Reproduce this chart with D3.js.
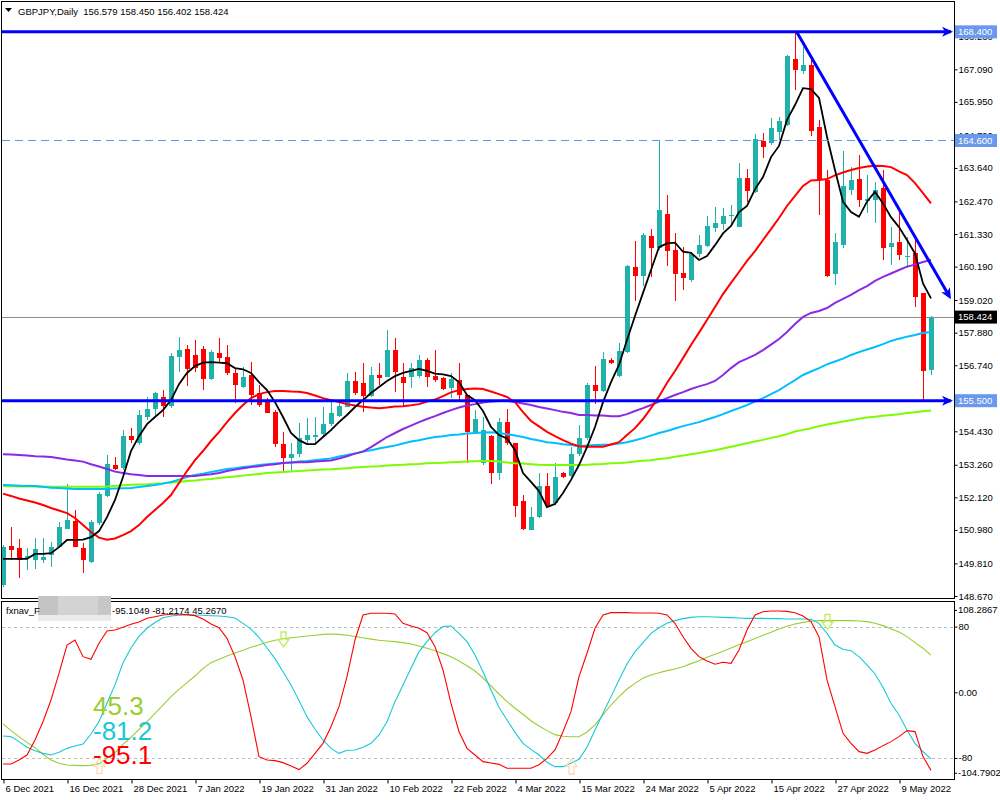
<!DOCTYPE html>
<html><head><meta charset="utf-8">
<script src="https://cdn.jsdelivr.net/npm/d3@7"></script>
<style>
html,body{margin:0;padding:0;background:#fff;}
svg{display:block;font-family:"Liberation Sans",Arial,sans-serif;}
</style></head><body>
<svg id="chart" width="1000" height="800"></svg>
<script>
// ---------------- DATA ----------------
const symbolTitle = "GBPJPY,Daily";
const lastOHLC = "156.579 158.450 156.402 158.424";
const dateLabels = ["6 Dec 2021","16 Dec 2021","28 Dec 2021","7 Jan 2022","19 Jan 2022","31 Jan 2022","10 Feb 2022","22 Feb 2022","4 Mar 2022","15 Mar 2022","24 Mar 2022","5 Apr 2022","15 Apr 2022","27 Apr 2022","9 May 2022"];
const dateTickBars = [0,8,16,24,32,40,48,56,64,72,80,88,96,104,112];
const priceTicks = [168.23,167.09,165.95,164.79,163.64,162.47,161.33,160.19,159.02,157.88,156.74,154.43,153.26,152.12,150.98,149.81,148.67];
const oscTicks = [80,0,-80];
const oscMax = 108.2867, oscMin = -104.7902;

const open = [149.05,150.42,150.34,150.01,149.93,149.93,150.10,150.39,151.01,151.29,
150.34,149.87,151.21,152.17,153.25,153.13,154.26,154.01,154.92,155.20,
155.64,155.31,157.04,157.31,157.10,157.31,156.26,157.16,157.04,156.48,
155.99,156.40,155.76,155.46,155.11,153.98,153.50,153.63,154.12,154.24,
154.33,154.68,154.96,155.29,156.19,156.13,155.67,156.40,156.34,157.27,
156.34,156.34,156.37,156.92,156.36,156.30,155.93,156.22,155.70,154.42,
153.31,154.26,152.98,154.77,154.03,151.98,150.98,151.42,152.51,151.91,
152.96,152.86,153.63,154.18,156.05,155.85,156.92,156.36,157.21,160.19,
159.87,161.26,160.83,162.03,160.77,159.96,159.72,160.63,160.91,161.55,
161.67,161.96,161.58,163.28,162.81,164.59,164.50,164.89,165.14,167.44,
167.04,167.24,165.06,163.22,159.93,160.94,162.87,163.24,162.49,162.52,
162.93,160.89,161.06,160.51,160.65,159.28,156.579];
const high = [150.45,151.09,150.65,150.34,150.69,150.69,150.57,151.27,152.59,151.68,
150.51,151.33,152.30,153.60,153.54,154.47,154.53,155.17,155.64,155.81,
155.87,157.17,157.74,157.45,157.62,157.41,157.27,157.68,157.45,156.63,
156.69,156.86,156.05,155.59,155.17,154.41,154.01,154.71,154.88,154.92,
155.29,155.52,155.52,156.46,156.49,156.81,156.69,156.81,157.97,157.68,
156.81,156.81,157.10,156.98,157.27,156.34,156.46,156.81,155.70,155.17,
154.94,154.30,154.88,155.20,154.03,152.20,151.79,152.96,152.96,153.31,
153.02,153.87,154.65,156.13,156.71,157.21,156.98,157.51,160.25,161.08,
161.35,161.49,164.62,162.69,161.35,160.86,160.67,161.28,161.96,162.26,
162.23,162.34,163.80,163.59,164.83,164.85,165.38,165.41,167.59,168.35,
167.88,167.44,165.32,163.57,161.35,164.23,163.68,164.09,163.39,163.16,
163.57,161.58,162.17,161.24,161.24,159.28,158.450];
const low = [148.98,149.93,149.29,149.58,149.60,149.81,149.69,150.34,151.00,150.39,
149.46,149.81,151.15,152.14,153.07,153.07,154.01,153.95,154.82,154.94,
154.94,155.24,156.51,156.01,156.50,155.87,156.22,156.81,156.40,155.41,
155.93,155.35,155.29,155.06,153.88,152.96,153.02,153.54,153.95,154.01,
154.24,154.61,154.94,155.27,155.70,155.11,155.64,156.05,156.34,155.81,
155.29,155.93,156.28,155.99,156.16,155.87,155.58,155.52,153.31,154.36,
153.25,152.59,152.72,153.95,151.44,150.98,150.98,151.39,151.79,151.85,
152.78,152.84,153.56,154.12,155.38,155.81,156.77,156.34,157.18,159.00,
159.51,159.84,160.77,160.21,159.00,159.37,159.66,160.54,160.89,161.41,
161.47,161.64,161.58,162.46,162.75,164.00,164.44,164.62,165.11,166.37,
166.93,164.76,161.99,159.84,159.55,160.83,162.69,162.28,162.05,161.72,
160.42,160.25,160.42,160.13,158.79,155.52,156.402];
const close = [150.39,150.28,149.93,150.07,150.30,150.04,150.39,151.09,151.33,150.39,
149.93,151.25,152.22,153.28,153.11,154.26,154.12,155.00,155.20,155.78,
155.31,157.06,157.27,156.60,156.64,156.26,157.21,157.00,156.48,156.05,
156.34,155.70,155.35,155.08,153.98,153.50,153.63,154.18,154.30,154.30,
154.67,155.08,155.31,156.20,155.76,155.67,156.39,156.28,157.27,156.51,
156.13,156.63,156.92,156.32,156.22,155.90,156.25,155.70,154.42,154.85,
154.47,152.98,154.77,154.01,151.81,151.01,151.42,152.51,151.81,152.84,
152.84,153.63,154.18,156.05,155.85,156.96,156.83,157.24,160.21,159.87,
161.29,160.85,162.17,160.75,159.93,159.80,160.63,160.95,161.61,161.70,
161.96,162.00,163.28,162.84,164.64,164.38,165.03,165.28,167.57,167.06,
167.24,164.94,163.22,159.86,161.06,163.01,163.22,162.52,162.57,162.87,
160.85,161.00,160.60,160.56,159.14,156.55,158.424];

const maBlack = [149.97,149.97,149.97,149.97,150.14,150.14,150.17,150.38,150.63,150.63,
150.64,150.73,150.94,151.43,152.03,152.83,153.74,154.26,154.68,154.93,
155.17,155.52,156.08,156.47,156.71,156.83,156.85,156.83,156.81,156.64,
156.60,156.47,156.15,155.87,155.45,154.93,154.37,154.12,153.98,153.98,
154.23,154.47,154.75,155.00,155.28,155.52,155.77,155.98,156.19,156.36,
156.47,156.54,156.61,156.54,156.45,156.42,156.36,156.15,155.70,155.52,
155.14,154.58,154.30,154.18,153.77,152.97,152.66,152.34,151.78,151.89,
152.27,152.73,153.25,153.88,154.58,155.45,156.15,156.75,157.62,158.46,
159.27,160.07,160.87,161.00,161.03,160.71,160.67,160.42,160.56,160.94,
161.35,161.61,162.10,162.31,162.90,163.32,164.02,164.41,165.32,165.84,
166.43,166.40,166.09,164.73,163.57,162.46,162.10,161.93,162.46,162.81,
162.40,161.92,161.57,161.12,160.65,159.60,159.08];
const maRed = [152.25,152.17,152.08,152.01,151.94,151.85,151.75,151.66,151.57,151.40,
151.15,150.91,150.71,150.64,150.68,150.80,150.94,151.15,151.43,151.68,
151.92,152.20,152.62,153.04,153.42,153.74,154.09,154.40,154.75,155.07,
155.35,155.59,155.73,155.80,155.84,155.84,155.82,155.81,155.77,155.68,
155.59,155.52,155.45,155.38,155.33,155.29,155.26,155.24,155.26,155.30,
155.31,155.34,155.38,155.47,155.54,155.66,155.79,155.87,155.91,155.93,
155.91,155.82,155.73,155.63,155.45,155.10,154.79,154.60,154.41,154.26,
154.12,154.00,153.91,153.89,153.89,153.89,153.97,154.05,154.30,154.54,
154.86,155.24,155.65,156.12,156.54,156.99,157.45,157.88,158.32,158.78,
159.23,159.62,160.00,160.39,160.73,161.12,161.50,161.89,162.31,162.66,
163.01,163.20,163.22,163.25,163.38,163.48,163.57,163.64,163.69,163.72,
163.71,163.67,163.52,163.39,163.11,162.76,162.40];
const maPurple = [153.63,153.62,153.60,153.58,153.56,153.55,153.53,153.49,153.44,153.41,
153.37,153.28,153.20,153.11,153.02,152.97,152.93,152.90,152.87,152.87,
152.87,152.87,152.87,152.87,152.87,152.90,152.93,152.97,153.04,153.09,
153.14,153.18,153.21,153.25,153.28,153.32,153.34,153.35,153.35,153.37,
153.39,153.41,153.48,153.56,153.65,153.72,153.88,154.05,154.23,154.37,
154.51,154.63,154.75,154.86,154.96,155.07,155.17,155.26,155.33,155.38,
155.44,155.47,155.49,155.50,155.45,155.40,155.35,155.28,155.23,155.17,
155.11,155.07,155.00,155.00,154.98,154.98,154.96,154.96,155.03,155.14,
155.24,155.35,155.47,155.59,155.70,155.80,155.91,156.00,156.08,156.19,
156.40,156.64,156.85,156.97,157.10,157.27,157.46,157.66,157.90,158.18,
158.43,158.57,158.64,158.74,158.92,159.06,159.20,159.37,159.51,159.69,
159.83,159.95,160.07,160.19,160.26,160.35,160.42];
const maCyan = [152.55,152.54,152.53,152.52,152.52,152.49,152.46,152.45,152.43,152.41,
152.41,152.41,152.41,152.41,152.43,152.44,152.45,152.48,152.52,152.55,
152.60,152.66,152.74,152.83,152.90,152.95,153.01,153.06,153.11,153.14,
153.18,153.21,153.25,153.28,153.30,153.32,153.34,153.37,153.39,153.42,
153.45,153.48,153.55,153.60,153.65,153.72,153.77,153.83,153.88,153.93,
154.00,154.07,154.12,154.18,154.23,154.26,154.30,154.32,154.35,154.37,
154.39,154.40,154.37,154.33,154.28,154.23,154.16,154.11,154.05,154.02,
153.98,153.95,153.91,153.93,153.95,153.96,153.97,154.00,154.05,154.12,
154.19,154.28,154.37,154.44,154.53,154.61,154.68,154.75,154.84,154.93,
155.03,155.14,155.24,155.35,155.47,155.59,155.73,155.87,156.05,156.22,
156.40,156.52,156.64,156.77,156.87,156.97,157.10,157.20,157.29,157.38,
157.48,157.59,157.67,157.74,157.80,157.87,157.90];
const maGreen = [152.52,152.51,152.50,152.50,152.50,152.49,152.49,152.49,152.49,152.49,
152.49,152.49,152.49,152.50,152.52,152.54,152.56,152.57,152.58,152.60,
152.61,152.64,152.66,152.69,152.71,152.74,152.76,152.80,152.82,152.85,
152.88,152.91,152.94,152.97,152.99,153.01,153.02,153.04,153.06,153.08,
153.09,153.10,153.12,153.14,153.16,153.18,153.20,153.21,153.23,153.25,
153.26,153.28,153.29,153.31,153.32,153.33,153.35,153.36,153.37,153.38,
153.39,153.39,153.37,153.34,153.31,153.30,153.28,153.26,153.25,153.25,
153.25,153.25,153.25,153.26,153.28,153.29,153.31,153.32,153.34,153.37,
153.40,153.42,153.46,153.49,153.54,153.58,153.63,153.67,153.72,153.77,
153.83,153.89,153.95,154.01,154.07,154.13,154.20,154.26,154.33,154.42,
154.48,154.54,154.61,154.67,154.72,154.77,154.82,154.87,154.91,154.94,
154.97,155.00,155.03,155.07,155.10,155.13,155.16];

const oscRed = [-87.4,-87.4,-82.5,-76.4,-58.1,-35.8,-9.4,23.1,57.6,63.7,
43.4,40.2,59.7,74.7,75.9,79.2,82.8,85.6,90.1,92.1,
94.2,95.0,95.0,94.6,93.4,89.3,83.2,78.7,65.7,43.4,
15.0,-29.7,-78.4,-82.5,-83.3,-85.7,-89.8,-94.2,-86.5,-74.4,
-62.2,-41.9,-17.5,19.0,63.7,94.2,96.2,96.2,96.2,95.4,
84.0,80.8,77.9,72.6,55.6,27.2,-13.4,-48.0,-68.3,-76.4,
-84.5,-86.1,-87.8,-92.6,-92.6,-92.6,-92.6,-88.2,-80.5,-70.3,
-48.0,-23.6,19.0,47.5,77.9,94.2,97.0,97.0,97.0,96.6,
96.6,96.6,96.2,94.2,84.0,67.7,53.6,43.4,38.1,34.1,
36.5,35.3,51.5,75.9,94.2,98.2,99.1,99.1,98.6,97.0,
93.0,86.1,67.7,15.0,-17.5,-50.0,-62.2,-72.3,-74.4,-70.3,
-65.0,-60.1,-54.0,-46.7,-47.9,-78.4,-95.1049];
const oscCyan = [-53.2,-54.0,-60.1,-67.0,-71.1,-74.4,-76.4,-73.1,-68.3,-65.4,
-63.0,-50.8,-35.8,-13.0,9.0,36.0,54.0,68.0,78.0,85.0,
90.9,93.0,93.8,94.2,94.2,93.8,93.3,93.0,92.1,90.5,
84.0,77.0,67.0,54.0,41.0,25.0,9.0,-10.0,-29.7,-45.1,
-58.1,-68.3,-74.4,-70.7,-70.3,-67.0,-62.2,-52.0,-35.8,-11.4,
8.9,29.2,49.5,61.7,72.6,80.0,80.8,71.8,61.7,45.4,
25.1,2.8,-18.3,-33.7,-48.8,-62.2,-69.5,-76.4,-85.3,-90.6,
-90.6,-86.5,-81.7,-67.0,-45.9,-25.6,-5.3,15.0,34.5,49.5,
60.5,71.8,78.7,84.0,87.3,89.7,91.3,92.1,92.1,91.7,
91.3,90.9,90.5,90.1,90.1,90.1,89.7,89.7,89.3,89.3,
89.3,88.9,84.0,71.8,57.6,52.4,50.7,43.4,33.3,22.3,
6.1,-13.4,-27.6,-45.9,-62.2,-72.3,-81.2174];
const oscGreen = [-38.5,-46.7,-54.0,-61.0,-67.5,-75.5,-82.5,-86.5,-88.6,-89.0,
-89.4,-89.0,-86.9,-80.5,-73.6,-63.4,-54.8,-45.1,-35.8,-25.6,
-15.5,-5.3,3.6,11.7,19.8,29.2,36.1,40.2,44.2,47.9,
51.2,54.8,57.6,60.9,63.4,65.3,66.5,67.4,68.5,69.5,
70.5,71.0,70.6,69.5,68.0,66.5,64.8,63.3,62.5,61.7,
60.5,58.8,56.4,53.6,50.7,47.1,43.4,38.1,32.4,25.9,
17.4,7.7,-2.1,-11.4,-19.5,-26.8,-34.6,-41.1,-46.7,-51.6,
-53.6,-54.1,-54.1,-48.4,-39.8,-27.6,-15.5,-5.3,4.0,10.9,
17.4,21.1,23.9,26.4,28.4,31.2,34.9,38.5,42.6,46.3,
49.9,54.0,58.0,61.7,65.4,69.4,73.1,77.1,80.4,83.2,
85.2,86.9,87.3,87.3,87.3,87.3,87.3,86.9,86.1,84.0,
81.2,77.5,73.5,67.8,60.5,53.6,45.2670];

const downSignals = [{bar:35, value:64.3},{bar:103, value:85.6}];
const upSignals = [{bar:12, value:-90.0},{bar:71, value:-90.4}];

const hLevels = [168.400, 155.500];
const dashLevel = 164.600;
const bidPrice = 158.424;
const trendStart = {bar:99.2, price:168.40};
const trendEnd = {bar:118.5, price:159.05};

// ---------------- LAYOUT ----------------
const svg = d3.select("#chart");
const L = 2, R = 954, mainT = 2, mainB = 598, oscT = 601, oscB = 779;
const N = close.length;
const x = d3.scaleLinear().domain([0, 116]).range([3, 931]);
const y = d3.scaleLinear().domain([148.67, 167.09]).range([596, 69.3]);
const yo = d3.scaleLinear().domain([oscMin, oscMax]).range([778.3, 603.4]);
const TEAL = "#20b2aa", RED = "#ff0000", BLUE = "#0000ff", HL = "#6a98ec";

svg.append("rect").attr("width",1000).attr("height",800).attr("fill","#fff");
const defs = svg.append("defs");
defs.append("clipPath").attr("id","mainClip").append("rect")
  .attr("x",L).attr("y",mainT).attr("width",R-L).attr("height",mainB-mainT);
defs.append("clipPath").attr("id","oscClip").append("rect")
  .attr("x",L).attr("y",oscT).attr("width",R-L).attr("height",oscB-oscT);

const main = svg.append("g").attr("clip-path","url(#mainClip)");

// bid line
main.append("line").attr("x1",L).attr("x2",R).attr("y1",Math.round(y(bidPrice))+0.5).attr("y2",Math.round(y(bidPrice))+0.5)
  .attr("stroke","#8c8c8c").attr("stroke-width",1);

// candles
const idx = d3.range(N);
const cg = main.append("g").attr("shape-rendering","crispEdges");
cg.selectAll("line.w").data(idx).join("line").attr("class","w")
  .attr("x1",i=>Math.round(x(i))+0.5).attr("x2",i=>Math.round(x(i))+0.5)
  .attr("y1",i=>y(high[i])).attr("y2",i=>y(low[i]))
  .attr("stroke",i=>close[i]>=open[i]?TEAL:RED).attr("stroke-width",1);
cg.selectAll("rect.b").data(idx).join("rect").attr("class","b")
  .attr("x",i=>Math.round(x(i))-2).attr("width",5)
  .attr("y",i=>y(Math.max(open[i],close[i])))
  .attr("height",i=>Math.max(1, Math.abs(y(open[i])-y(close[i]))))
  .attr("fill",i=>close[i]>=open[i]?TEAL:RED);

// moving averages
const maSeries = [
  {v:maGreen, c:"#7cfc00", w:2},
  {v:maCyan, c:"#00bfff", w:2},
  {v:maPurple, c:"#8a2be2", w:2},
  {v:maRed, c:"#ff0000", w:2},
  {v:maBlack, c:"#000000", w:1.8}
];
const priceLine = d3.line().x((d,i)=>x(i)).y(d=>y(d));
main.selectAll("path.ma").data(maSeries).join("path").attr("class","ma")
  .attr("d",d=>priceLine(d.v)).attr("fill","none").attr("stroke",d=>d.c).attr("stroke-width",d=>d.w);

// dashed level
main.append("line").attr("x1",L).attr("x2",R).attr("y1",Math.round(y(dashLevel))+0.5).attr("y2",Math.round(y(dashLevel))+0.5)
  .attr("stroke","#6495ed").attr("stroke-width",1).attr("stroke-dasharray","8,5");

// blue horizontal rays with arrowheads
const arrowPath = "M0,0 L-11,-5 L-8,0 L-11,5 Z";
hLevels.forEach(v=>{
  const yy = y(v);
  main.append("line").attr("x1",L).attr("x2",951).attr("y1",yy).attr("y2",yy)
    .attr("stroke",BLUE).attr("stroke-width",3);
  main.append("path").attr("d",arrowPath).attr("transform",`translate(953,${yy})`).attr("fill",BLUE);
});
// trend line
{
  const x1 = x(trendStart.bar), y1 = y(trendStart.price), x2 = x(trendEnd.bar), y2 = y(trendEnd.price);
  const ang = Math.atan2(y2-y1, x2-x1)*180/Math.PI;
  main.append("line").attr("x1",x1).attr("y1",y1).attr("x2",x2-2).attr("y2",y2-3.5)
    .attr("stroke",BLUE).attr("stroke-width",3);
  main.append("path").attr("d",arrowPath).attr("transform",`translate(${x2},${y2}) rotate(${ang})`).attr("fill",BLUE);
}

// panel borders
svg.append("rect").attr("x",L-0.5).attr("y",mainT-0.5).attr("width",R-L+1).attr("height",mainB-mainT+1)
  .attr("fill","none").attr("stroke","#000").attr("stroke-width",1).attr("shape-rendering","crispEdges");
svg.append("rect").attr("x",L-0.5).attr("y",oscT+0.5).attr("width",R-L+1).attr("height",oscB-oscT)
  .attr("fill","none").attr("stroke","#000").attr("stroke-width",1).attr("shape-rendering","crispEdges");

// header
svg.append("path").attr("d","M5,8 L12,8 L8.5,12 Z").attr("fill","#000");
svg.append("text").attr("x",18).attr("y",15).attr("font-size",9.5).attr("fill","#000")
  .style("white-space","pre").text(symbolTitle+"  "+lastOHLC);

// price axis
const pAxis = svg.append("g").attr("transform",`translate(${R+0.5},0)`)
  .call(d3.axisRight(y).tickValues(priceTicks).tickSize(3).tickPadding(1).tickFormat(d3.format(".3f")));
pAxis.select(".domain").remove();
pAxis.selectAll("text").attr("font-size",9.5).attr("font-family","Liberation Sans, Arial, sans-serif").attr("fill","#000");
pAxis.selectAll("line").attr("stroke","#000");

// highlighted price labels
const boxes = [
  {v:168.400, t:"168.400", bg:HL},
  {v:164.600, t:"164.600", bg:HL},
  {v:155.500, t:"155.500", bg:HL},
  {v:bidPrice, t:"158.424", bg:"#000"}
];
const bg = svg.append("g");
boxes.forEach(b=>{
  const yy = y(b.v);
  bg.append("rect").attr("x",955).attr("y",yy-6.5).attr("width",42).attr("height",13).attr("fill",b.bg);
  bg.append("text").attr("x",958).attr("y",yy).attr("dy","0.34em").attr("font-size",9.5).attr("fill","#fff").text(b.t);
});

// ---------------- OSCILLATOR ----------------
const osc = svg.append("g").attr("clip-path","url(#oscClip)");
[80,-80].forEach(v=>{
  osc.append("line").attr("x1",L).attr("x2",R).attr("y1",Math.round(yo(v))+0.5).attr("y2",Math.round(yo(v))+0.5)
    .attr("stroke","#bdbdbd").attr("stroke-width",1).attr("stroke-dasharray","3,3");
});
const oscLine = d3.line().x((d,i)=>x(i)).y(d=>yo(d));
[{v:oscGreen,c:"#9acd32"},{v:oscCyan,c:"#19c8d4"},{v:oscRed,c:"#ff0000"}].forEach(s=>{
  osc.append("path").attr("d",oscLine(s.v)).attr("fill","none").attr("stroke",s.c).attr("stroke-width",1.1);
});
// signal arrows
const downArrow = "M-2.5,-7.5 L2.5,-7.5 L2.5,0 L5.5,0 L0,7.5 L-5.5,0 L-2.5,0 Z";
const upArrow = "M-2.5,7.5 L2.5,7.5 L2.5,0 L5.5,0 L0,-7.5 L-5.5,0 L-2.5,0 Z";
downSignals.forEach(s=>{
  osc.append("path").attr("d",downArrow).attr("transform",`translate(${x(s.bar)+0.5},${yo(s.value)})`)
    .attr("fill","none").attr("stroke","#c2ec5a").attr("stroke-width",1.3);
});
upSignals.forEach(s=>{
  osc.append("path").attr("d",upArrow).attr("transform",`translate(${x(s.bar)+0.5},${yo(s.value)})`)
    .attr("fill","none").attr("stroke","#ffd9b3").attr("stroke-width",1.3);
});
// big values
const bigVals = [
  {t:d3.format(".1f")(oscGreen[N-1]), c:"#9acd32", y:715},
  {t:d3.format(".1f")(oscCyan[N-1]).replace("−","-"), c:"#19c8d4", y:740},
  {t:d3.format(".1f")(oscRed[N-1]).replace("−","-"), c:"#ff0000", y:764}
];
bigVals.forEach(b=>{
  svg.append("text").attr("x",93).attr("y",b.y).attr("font-size",26).attr("fill",b.c).text(b.t);
});
// osc header with masked name
svg.append("rect").attr("x",38).attr("y",596).attr("width",20).attr("height",19).attr("fill","#c3c3c3");
svg.append("rect").attr("x",58).attr("y",596).attr("width",40).attr("height",19).attr("fill","#d3d3d3");
svg.append("rect").attr("x",98).attr("y",596).attr("width",13).attr("height",19).attr("fill","#c7c7c7");
svg.append("rect").attr("x",38).attr("y",615).attr("width",73).attr("height",6).attr("fill","#ebebeb");
svg.append("text").attr("x",6).attr("y",614).attr("font-size",9.5).attr("fill","#000").text("fxnav_F");
const f4 = d3.format(".4f");
svg.append("text").attr("x",112).attr("y",614).attr("font-size",9.5).attr("fill","#000")
  .text([oscRed[N-1],oscCyan[N-1],oscGreen[N-1]].map(v=>f4(v).replace("−","-")).join(" "));

// osc axis
const oAxis = svg.append("g").attr("transform",`translate(${R+0.5},0)`)
  .call(d3.axisRight(yo).tickValues(oscTicks).tickSize(3).tickPadding(1).tickFormat(d=>d===0?"0.00":String(d)));
oAxis.select(".domain").remove();
oAxis.selectAll("text").attr("font-size",9.5).attr("font-family","Liberation Sans, Arial, sans-serif").attr("fill","#000");
oAxis.selectAll("line").attr("stroke","#000");
[{v:oscMax, dy:7, t:"108.2867"},{v:oscMin, dy:-5, t:"-104.7902"}].forEach(m=>{
  const yy = yo(m.v)+m.dy;
  svg.append("line").attr("x1",R).attr("x2",R+3).attr("y1",yy).attr("y2",yy).attr("stroke","#000");
  svg.append("text").attr("x",958).attr("y",yy).attr("dy","0.32em").attr("font-size",9.5).attr("fill","#000").text(m.t);
});

// date axis
const xAxis = svg.append("g").attr("transform",`translate(0,${oscB+0.5})`)
  .call(d3.axisBottom(x).tickValues(dateTickBars).tickSize(4).tickPadding(2).tickFormat((d,i)=>dateLabels[i]));
xAxis.select(".domain").remove();
xAxis.selectAll(".tick line").attr("stroke","#000").attr("transform","translate(0.5,0)");
xAxis.selectAll("text").attr("text-anchor","start").attr("x",2).attr("font-size",9.5)
  .attr("font-family","Liberation Sans, Arial, sans-serif").attr("fill","#000");
</script>
</body></html>
